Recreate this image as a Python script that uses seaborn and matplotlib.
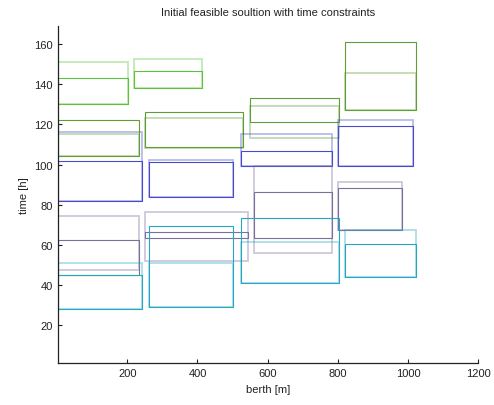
import matplotlib
matplotlib.use("Agg")
import matplotlib.pyplot as plt
from matplotlib.patches import Rectangle
import seaborn as sns

# Berth position of each vessel [m]
berth_start = [2, 220, 2, 251, 549, 821,
               2, 263, 523, 801,
               561, 801, 251, 2,
               821, 523, 263, 2]
berth_end = [202, 413, 232, 530, 802, 1022,
             241, 502, 783, 1013,
             783, 982, 543, 232,
             1022, 802, 501, 241]

# Service time window (darker outline) [h]
service_start = [130.4, 138.0, 104.2, 108.8, 121.2, 127.3,
                 82.0, 84.0, 99.3, 99.3,
                 63.3, 67.2, 63.2, 45.2,
                 44.2, 41.2, 28.9, 27.9]
service_end = [143.4, 146.5, 122.3, 126.2, 133.2, 161.2,
               102.0, 101.2, 107.0, 119.3,
               86.5, 88.2, 66.2, 62.3,
               60.2, 73.2, 69.2, 45.2]

# Allowed time window (lighter outline) [h]
window_start = [130.4, 138.0, 104.2, 108.2, 113.2, 127.3,
                82.0, 84.0, 99.3, 99.3,
                55.8, 67.2, 52.0, 47.3,
                44.2, 41.2, 28.9, 27.9]
window_end = [151.2, 152.4, 115.2, 123.3, 129.2, 145.7,
              116.3, 102.2, 115.3, 122.3,
              99.3, 91.2, 76.2, 74.2,
              67.2, 61.2, 50.9, 50.9]

vessel_colors = ["#5cc43a", "#5cc43a", "#5e9e34", "#5e9e34", "#5e9e34", "#5e9e34",
                 "#4a4acc", "#4a4acc", "#4a4acc", "#4a4acc",
                 "#7a70a0", "#7a70a0", "#7a70a0", "#7a70a0",
                 "#24a8c2", "#24a8c2", "#24a8c2", "#24a8c2"]

sns.set_style("ticks")
plt.rcParams["font.family"] = ["Liberation Sans", "DejaVu Sans"]
plt.rcParams["xtick.direction"] = "in"
plt.rcParams["ytick.direction"] = "in"

fig = plt.figure(figsize=(4.94, 4.06), dpi=100)
ax = fig.add_axes([0.117, 0.103, 0.851, 0.830])

for i in range(len(berth_start)):
    c = vessel_colors[i]
    w = berth_end[i] - berth_start[i]
    ax.add_patch(Rectangle((berth_start[i], window_start[i]), w,
                           window_end[i] - window_start[i],
                           fill=False, edgecolor=c, alpha=0.38, linewidth=1.3))
    ax.add_patch(Rectangle((berth_start[i], service_start[i]), w,
                           service_end[i] - service_start[i],
                           fill=False, edgecolor=c, linewidth=0.8))

ax.set_xlim(2, 1200)
ax.set_ylim(1, 169)
ax.set_xticks([200, 400, 600, 800, 1000, 1200])
ax.set_yticks([20, 40, 60, 80, 100, 120, 140, 160])
ax.tick_params(labelsize=8, length=3, width=0.8, colors="#222222", labelcolor="#222222")
for s in ("left", "bottom"):
    ax.spines[s].set_linewidth(0.9)
    ax.spines[s].set_color("#222222")
sns.despine(ax=ax)

ax.set_xlabel("berth [m]", fontsize=8, color="#222222")
ax.set_ylabel("time [h]", fontsize=8, color="#222222")
ax.set_title("Initial feasible soultion with time constraints", fontsize=8, pad=8,
             color="#222222")

fig.savefig("out.png", dpi=100)
